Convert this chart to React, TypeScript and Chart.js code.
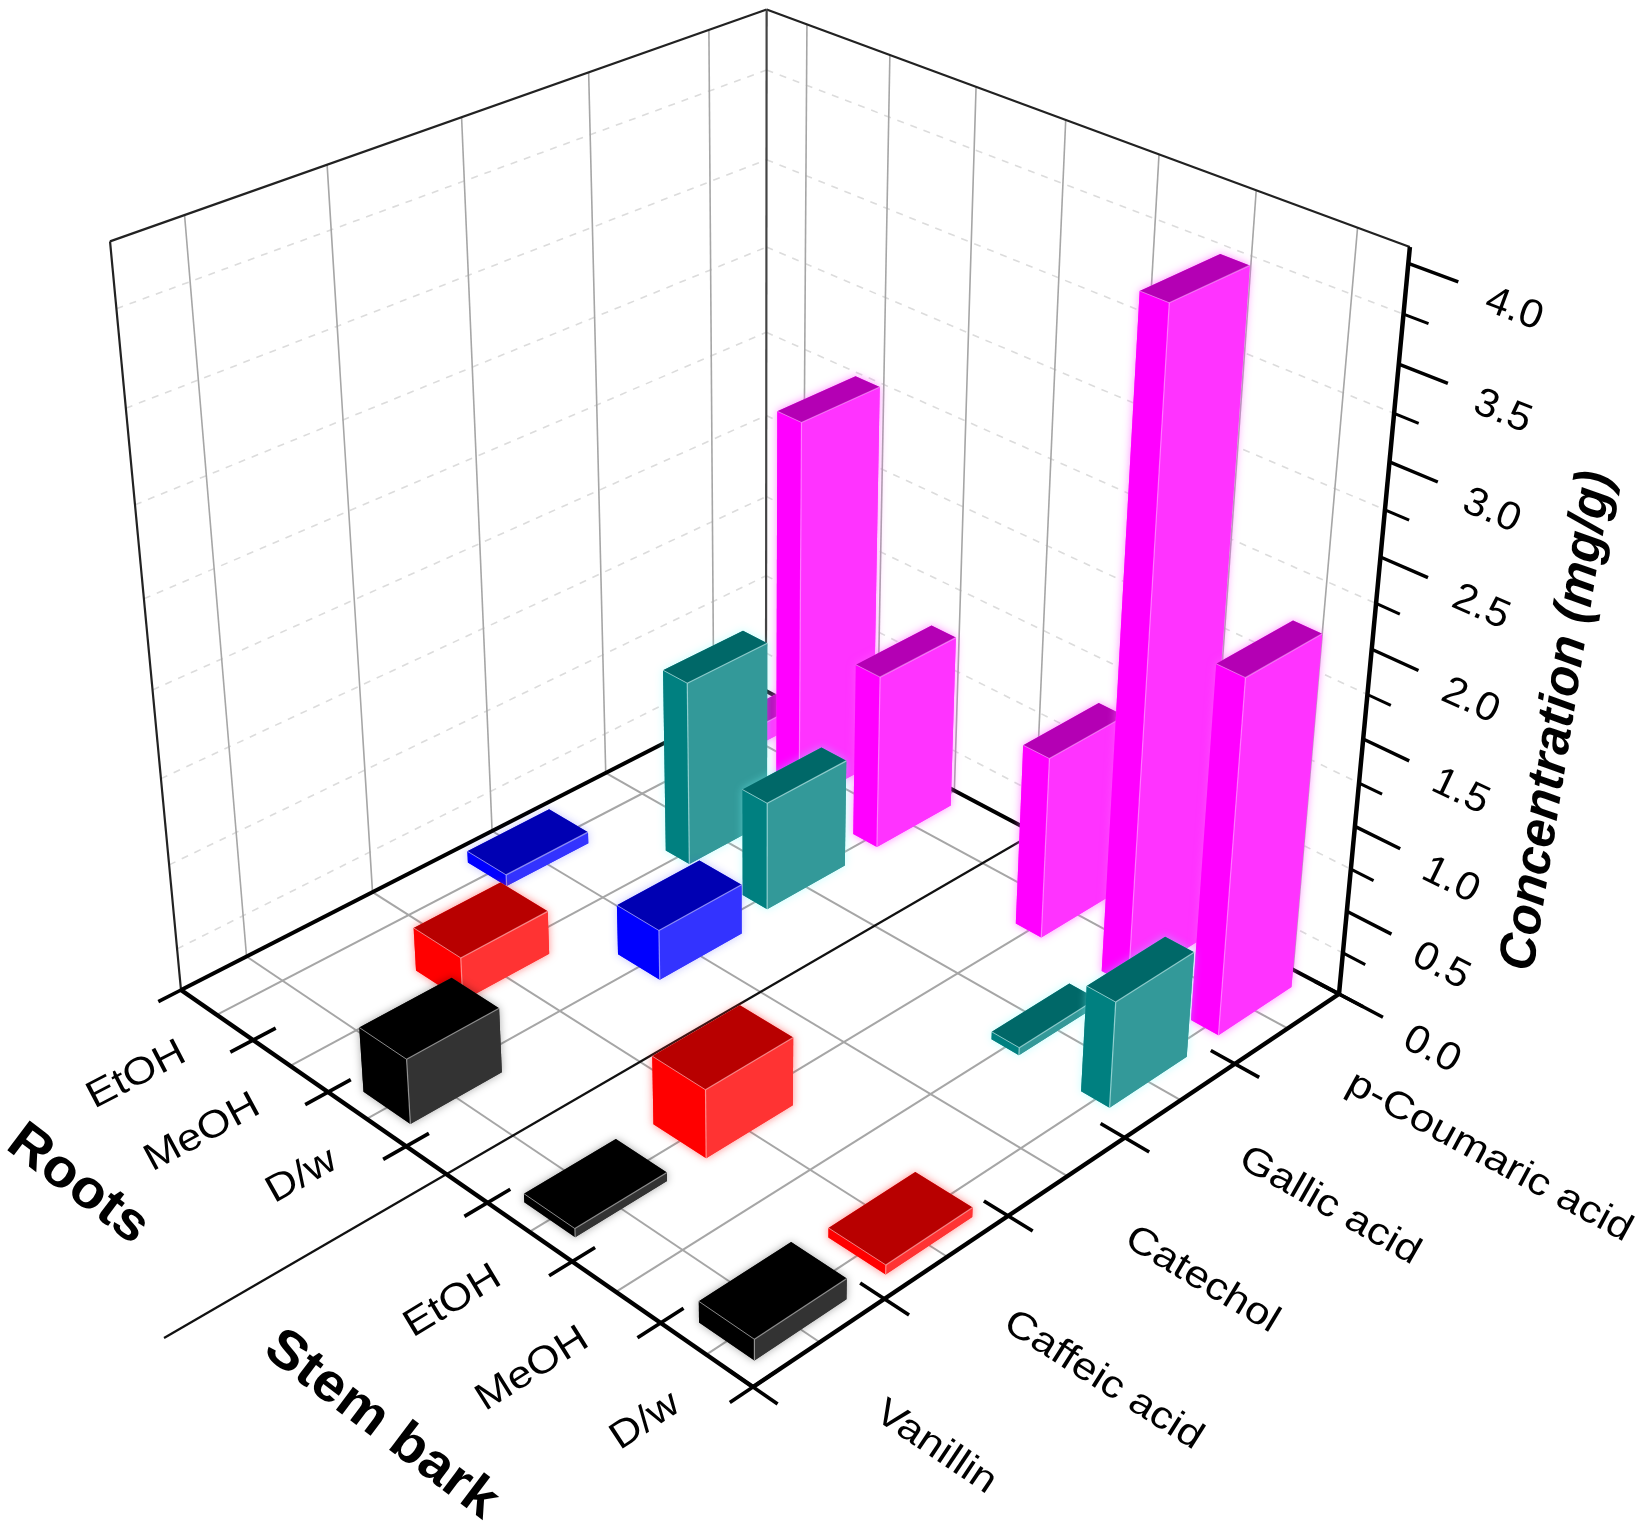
import React, { useEffect, useRef } from "react";
import { Chart, registerables } from "chart.js";

Chart.register(...registerables);

// ---- data ----
const solvents = ["EtOH", "MeOH", "D/w", "", "EtOH", "MeOH", "D/w"];
const compounds = ["Vanillin", "Caffeic acid", "Catechol", "Gallic acid", "p-Coumaric acid"];
const vanillin = [null, null, 0.38, null, 0.05, null, 0.12];
const caffeicAcid = [null, 0.26, null, null, 0.4, null, 0.055];
const catechol = [0.07, null, 0.3, null, null, null, null];
const gallicAcid = [null, 1.11, 0.65, null, null, 0.045, 0.62];
const pCoumaricAcid = [0.12, 2.31, 1.05, null, 1.08, 3.77, 2.05];
const zMajorTicks = [0, 0.5, 1, 1.5, 2, 2.5, 3, 3.5, 4];
const zMinorTicks = [0.25, 0.75, 1.25, 1.75, 2.25, 2.75, 3.25, 3.75];
const zTickLabels = ["0.0", "0.5", "1.0", "1.5", "2.0", "2.5", "3.0", "3.5", "4.0"];
const Z_MAX = 4.08;

// ---- camera calibration of the 3-D box (floor corners, vertical vanishing point) ----
const CAM_L = [181, 990];
const CAM_F = [753, 1387];
const CAM_R = [1339, 994];
const CAM_B = [766, 691];
const CAM_VP = [760, 7097];
const CAM_K = -0.1092;

const dx1 = CAM_F[0] - CAM_R[0];
const dx2 = CAM_B[0] - CAM_R[0];
const sx = CAM_L[0] - CAM_F[0] + CAM_R[0] - CAM_B[0];
const dy1 = CAM_F[1] - CAM_R[1];
const dy2 = CAM_B[1] - CAM_R[1];
const sy = CAM_L[1] - CAM_F[1] + CAM_R[1] - CAM_B[1];
const det = dx1 * dy2 - dx2 * dy1;
const G = (sx * dy2 - dx2 * sy) / det;
const H = (dx1 * sy - sx * dy1) / det;
const A = CAM_F[0] - CAM_L[0] + G * CAM_F[0];
const B = CAM_B[0] - CAM_L[0] + H * CAM_B[0];
const D = CAM_F[1] - CAM_L[1] + G * CAM_F[1];
const E = CAM_B[1] - CAM_L[1] + H * CAM_B[1];

function project(u: number, v: number, w: number) {
  const den = G * u + H * v + 1 + CAM_K * w;
  return {
    x: (A * u + B * v + CAM_L[0] + CAM_VP[0] * CAM_K * w) / den,
    y: (D * u + E * v + CAM_L[1] + CAM_VP[1] * CAM_K * w) / den,
  };
}

// ---- styles ----
const FACES = [
  { left: "#000000", right: "#333333", top: "#000000", edge: "rgba(190,190,190,0.7)", glow: "rgba(0,0,0,0.35)" },
  { left: "#ff0000", right: "#ff3333", top: "#b80000", edge: "rgba(255,190,190,0.65)", glow: "rgba(255,40,40,0.55)" },
  { left: "#0000ff", right: "#3333ff", top: "#0000b3", edge: "rgba(190,190,255,0.7)", glow: "rgba(60,60,255,0.3)" },
  { left: "#008080", right: "#339999", top: "#006868", edge: "rgba(200,240,240,0.65)", glow: "rgba(120,255,255,0.45)" },
  { left: "#ff00ff", right: "#ff33ff", top: "#b400b4", edge: "rgba(255,200,255,0.5)", glow: "rgba(255,90,255,0.7)" },
];
const BAR_DEPTH_FRACTION = [0.6, 0.62, 0.53, 0.31, 0.3];
const BAR_WIDTH_V = 0.14;
const FONT = '"Liberation Sans", Arial, sans-serif';

function line(ctx: CanvasRenderingContext2D, a: any, b: any, color: string, width: number, dash: number[] = []) {
  ctx.save();
  ctx.strokeStyle = color;
  ctx.lineWidth = width;
  ctx.setLineDash(dash);
  ctx.beginPath();
  ctx.moveTo(a.x, a.y);
  ctx.lineTo(b.x, b.y);
  ctx.stroke();
  ctx.restore();
}

function poly(ctx: CanvasRenderingContext2D, pts: any[], fill: string) {
  ctx.fillStyle = fill;
  ctx.beginPath();
  pts.forEach((p, i) => (i ? ctx.lineTo(p.x, p.y) : ctx.moveTo(p.x, p.y)));
  ctx.closePath();
  ctx.fill();
}

function label(
  ctx: CanvasRenderingContext2D,
  text: string,
  x: number,
  y: number,
  angle: number,
  font: string,
  align: CanvasTextAlign,
  stretch = 1
) {
  ctx.save();
  ctx.translate(x, y);
  ctx.rotate(angle);
  ctx.scale(stretch, 1);
  ctx.font = font;
  ctx.fillStyle = "#000";
  ctx.textAlign = align;
  ctx.textBaseline = "middle";
  ctx.fillText(text, 0, 0);
  ctx.restore();
}

const slope = (a: any, b: any) => Math.atan2(b.y - a.y, b.x - a.x);

const uOf = (chart: any, i: number) => {
  const s = chart.scales.x;
  return (s.getPixelForValue(i) - s.left) / s.width;
};
const vOf = (chart: any, j: number) => {
  const s = chart.scales.compound;
  return (s.getPixelForValue(j) - s.left) / s.width;
};
const wOf = (chart: any, val: number) => {
  const s = chart.scales.y;
  return (s.bottom - s.getPixelForValue(val)) / (s.bottom - s.top);
};

const box3dPlugin = {
  id: "box3d",
  beforeDraw(chart: any) {
    const ctx = chart.ctx;
    ctx.save();
    ctx.fillStyle = "#fff";
    ctx.fillRect(0, 0, chart.width, chart.height);
    ctx.restore();
  },
  beforeDatasetsDraw(chart: any) {
    const ctx: CanvasRenderingContext2D = chart.ctx;
    ctx.save();
    ctx.lineCap = "butt";
    const GRID = "#a6a6a6";
    const DASH = "#dcdcdc";

    // wall grids: the dashed lines sit on the minor ticks
    zMinorTicks.forEach((t) => {
      const w = wOf(chart, t);
      line(ctx, project(0, 0, w), project(0, 1, w), DASH, 1.6, [7, 7]);
      line(ctx, project(0, 1, w), project(1, 1, w), DASH, 1.6, [7, 7]);
    });
    compounds.forEach((_, j) => {
      const v = vOf(chart, j);
      line(ctx, project(0, v, 0), project(0, v, 1), GRID, 1.6);
    });
    solvents.forEach((_, i) => {
      const u = uOf(chart, i);
      line(ctx, project(u, 1, 0), project(u, 1, 1), GRID, 1.6);
    });

    // floor grid
    compounds.forEach((_, j) => {
      const v = vOf(chart, j);
      line(ctx, project(0, v, 0), project(1, v, 0), GRID, 2);
    });
    solvents.forEach((s, i) => {
      const u = uOf(chart, i);
      if (s === "") line(ctx, project(u, -0.395, 0), project(u, 1, 0), "#111", 2.2);
      else line(ctx, project(u, 0, 0), project(u, 1, 0), GRID, 2);
    });

    // box frame
    line(ctx, project(0, 0, 0), project(0, 0, 1), "#222", 2.2);
    line(ctx, project(0, 0, 1), project(0, 1, 1), "#222", 2.2);
    line(ctx, project(0, 1, 1), project(1, 1, 1), "#222", 2.2);
    line(ctx, project(0, 1, 0), project(0, 1, 1), "#444", 2.2);
    line(ctx, project(0, 0, 0), project(0, 1, 0), "#000", 4);
    line(ctx, project(0, 1, 0), project(1, 1, 0), "#000", 4);
    line(ctx, project(0, 0, 0), project(1, 0, 0), "#000", 4.5);
    line(ctx, project(1, 0, 0), project(1, 1, 0), "#000", 4.5);
    line(ctx, project(1, 1, 0), project(1, 1, 1), "#000", 4.5);

    // category ticks and labels
    for (let i = 0; i <= solvents.length; i++) {
      const u = i / solvents.length;
      line(ctx, project(u, -0.034, 0), project(u, i === 0 ? 0 : 0.034, 0), "#000", 3.6);
    }
    for (let j = 0; j <= compounds.length; j++) {
      const v = j / compounds.length;
      line(ctx, project(0.963, v, 0), project(1.037, v, 0), "#000", 3.6);
    }
    solvents.forEach((s, i) => {
      if (!s) return;
      const u = uOf(chart, i);
      const anchor = project(u + 0.03, -0.072, 0);
      const ang = slope(project(u, 0, 0), project(u, 1, 0));
      label(ctx, s, anchor.x, anchor.y, ang, `38px ${FONT}`, "right", 1.14);
    });
    compounds.forEach((c, j) => {
      const v = vOf(chart, j);
      const anchor = project(1.117, v - 0.03, 0);
      const ang = slope(project(1, v, 0), project(1.3, v, 0));
      label(ctx, c, anchor.x, anchor.y, ang, `38px ${FONT}`, "left", 1.15);
    });

    // value axis
    zMajorTicks.forEach((t, k) => {
      const w = wOf(chart, t);
      line(ctx, project(1, 1, w), project(1.067, 1, w), "#000", 3.4);
      const p = project(1.14, 1, w);
      const ang = slope(project(1, 1, w), project(1.2, 1, w));
      label(ctx, zTickLabels[k], p.x, p.y + 7, ang, `40px ${FONT}`, "center", 1.05);
    });
    zMinorTicks.forEach((t) => {
      const w = wOf(chart, t);
      line(ctx, project(1, 1, w), project(1.034, 1, w), "#000", 3);
    });

    // axis titles
    const tilt = (37 * Math.PI) / 180;
    label(ctx, "Roots", 78, 1185, tilt, `bold 54px ${FONT}`, "center", 1.06);
    label(ctx, "Stem bark", 381, 1425, tilt, `bold 54px ${FONT}`, "center", 1.06);
    label(ctx, "Concentration (mg/g)", 1558, 721, (-81 * Math.PI) / 180, `italic bold 52px ${FONT}`, "center", 0.96);
    ctx.restore();
  },
  beforeDatasetDraw(chart: any, args: any) {
    const ctx: CanvasRenderingContext2D = chart.ctx;
    const j = args.index;
    const values = chart.data.datasets[j].data;
    const face = FACES[j];
    const v = vOf(chart, j);
    const halfV = BAR_WIDTH_V / 2;
    const halfU = BAR_DEPTH_FRACTION[j] / solvents.length / 2;
    values.forEach((val: number | null, i: number) => {
      if (val === null) return;
      const u = uOf(chart, i);
      const w = wOf(chart, val);
      const bl = project(u - halfU, v - halfV, 0);
      const bf = project(u + halfU, v - halfV, 0);
      const br = project(u + halfU, v + halfV, 0);
      const tl = project(u - halfU, v - halfV, w);
      const tf = project(u + halfU, v - halfV, w);
      const tr = project(u + halfU, v + halfV, w);
      const tb = project(u - halfU, v + halfV, w);
      ctx.save();
      ctx.shadowColor = face.glow;
      ctx.shadowBlur = 8;
      poly(ctx, [bl, bf, br, tr, tb, tl], face.right);
      ctx.restore();
      poly(ctx, [bl, bf, tf, tl], face.left);
      poly(ctx, [bf, br, tr, tf], face.right);
      poly(ctx, [tl, tf, tr, tb], face.top);
      line(ctx, bf, tf, face.edge, 1.2);
      line(ctx, tl, tf, face.edge, 1);
      line(ctx, tf, tr, face.edge, 1.2);
    });
    return false;
  },
};

export default function App() {
  const ref = useRef<HTMLCanvasElement | null>(null);
  useEffect(() => {
    if (!ref.current) return;
    const series = [vanillin, caffeicAcid, catechol, gallicAcid, pCoumaricAcid];
    const chart = new Chart(ref.current, {
      type: "bar",
      data: {
        labels: solvents,
        datasets: series.map((data, j) => ({
          label: compounds[j],
          data,
          xAxisID: "x",
          yAxisID: "y",
          backgroundColor: FACES[j].left,
        })),
      },
      options: {
        animation: false,
        responsive: false,
        devicePixelRatio: 1,
        layout: { padding: 0 },
        plugins: { legend: { display: false }, tooltip: { enabled: false } },
        scales: {
          x: { type: "category", offset: true, display: false },
          compound: { type: "category", axis: "x", labels: compounds, offset: true, display: false },
          y: { type: "linear", min: 0, max: Z_MAX, display: false },
        },
      },
      plugins: [box3dPlugin],
    } as any);
    return () => chart.destroy();
  }, []);
  return (
    <div style={{ position: "absolute", left: 0, top: 0, width: 1637, height: 1535, background: "#fff" }}>
      <canvas ref={ref} width={1637} height={1535} style={{ display: "block", filter: "blur(0.7px)" }} />
    </div>
  );
}
